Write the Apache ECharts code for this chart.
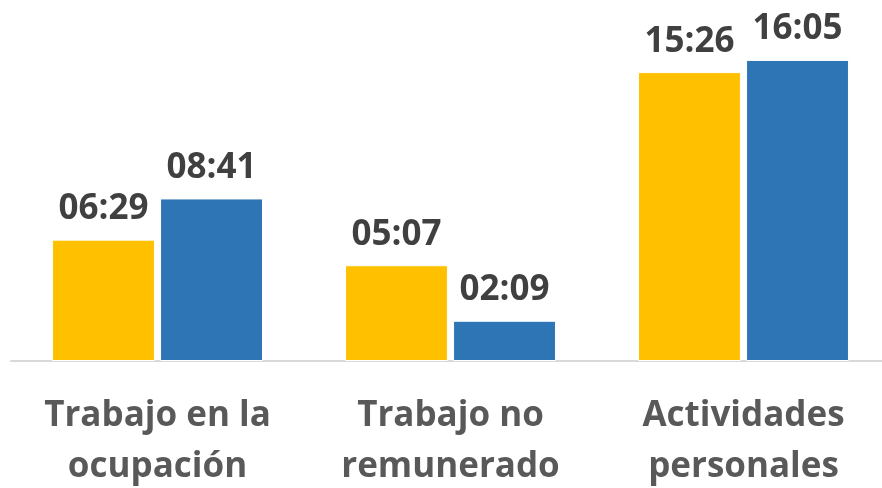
<!DOCTYPE html>
<html>
<head>
<meta charset="utf-8">
<script src="https://cdn.jsdelivr.net/npm/echarts@6/dist/echarts.min.js"></script>
<style>
  html, body { margin: 0; padding: 0; background: #fff; }
  #chart { width: 882px; height: 488px; }
</style>
</head>
<body>
<div id="chart"></div>
<script>
// categorias del eje x
const categories = ['Trabajo en la\nocupación', 'Trabajo no\nremunerado', 'Actividades\npersonales']
// tiempos en minutos (hh:mm)
const serieAmarilla = [389, 307, 926]   // 06:29, 05:07, 15:26
const serieAzul = [521, 129, 965]       // 08:41, 02:09, 16:05

// minutos -> "hh:mm"
function hhmm(v) {
    const h = Math.floor(v / 60)
    const m = v % 60
    return String(h).padStart(2, '0') + ':' + String(m).padStart(2, '0')
}

const labelStyle = {
    show: true,
    position: 'top',
    distance: 13,
    fontFamily: 'Open Sans',
    fontWeight: 'bold',
    fontSize: 35,
    color: '#404040',
    formatter: p => hhmm(p.value)
}

let mychart = echarts.init(document.getElementById('chart'))
mychart.setOption({
    animation: false,
    grid: {
        left: 11,
        width: 879,
        top: 49,
        height: 312,
        outerBoundsMode: 'none',
        containLabel: false
    },
    xAxis: {
        type: 'category',
        data: categories,
        axisLine: { show: true, lineStyle: { color: '#d9d9d9', width: 2 } },
        axisTick: { show: false },
        axisLabel: {
            interval: 0,
            hideOverlap: false,
            margin: 30,
            fontFamily: 'Open Sans',
            fontWeight: 'bold',
            fontSize: 35,
            lineHeight: 51,
            color: '#595959'
        }
    },
    yAxis: {
        type: 'value',
        min: 0,
        max: 1000,
        show: false,
        splitLine: { show: false }
    },
    series: [
        {
            type: 'bar',
            data: serieAmarilla,
            barGap: '5%',
            barCategoryGap: '28%',
            itemStyle: { color: '#FFC000', borderColor: '#fff', borderWidth: 1 },
            label: labelStyle
        },
        {
            type: 'bar',
            data: serieAzul,
            itemStyle: { color: '#2E75B6', borderColor: '#fff', borderWidth: 1 },
            label: labelStyle
        }
    ]
})
</script>
</body>
</html>
